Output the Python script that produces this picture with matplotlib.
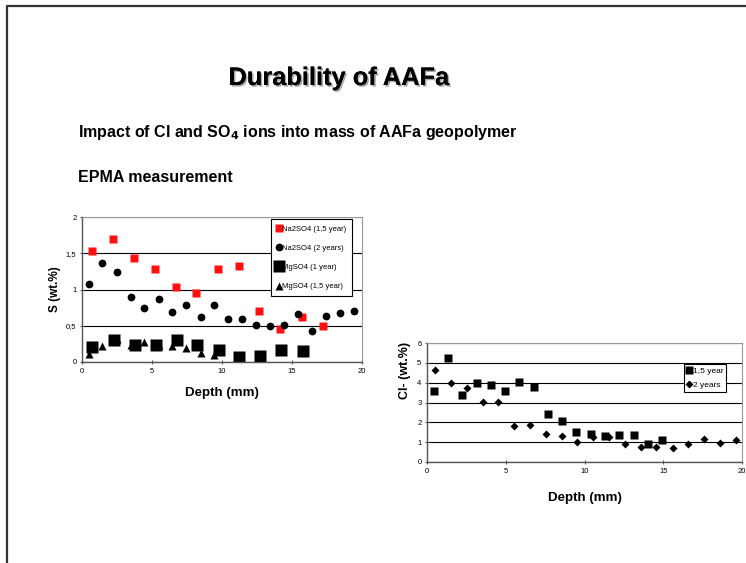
import matplotlib
matplotlib.use("Agg")
import matplotlib.pyplot as plt
from matplotlib.lines import Line2D
import matplotlib.patheffects as pe

plt.rcParams['font.family'] = ['Liberation Sans', 'DejaVu Sans']

# ---- Data: left chart (S, wt.%) ----
na_15_x = [0.74, 2.24, 3.71, 5.19, 6.71, 8.17, 9.71, 11.19, 12.67, 14.17, 15.69, 17.19]
na_15_y = [1.53, 1.70, 1.43, 1.28, 1.04, 0.95, 1.28, 1.32, 0.70, 0.455, 0.62, 0.50]
na_2_x = [0.5, 1.45, 2.48, 3.48, 4.45, 5.48, 6.45, 7.45, 8.48, 9.45, 10.45, 11.45,
          12.45, 13.45, 14.45, 15.43, 16.43, 17.43, 18.43, 19.43]
na_2_y = [1.08, 1.37, 1.24, 0.89, 0.74, 0.87, 0.69, 0.78, 0.62, 0.78, 0.60, 0.60,
          0.51, 0.50, 0.51, 0.66, 0.43, 0.64, 0.67, 0.70]
mg_1_x = [0.74, 2.31, 3.79, 5.26, 6.76, 8.21, 9.81, 11.24, 12.74, 14.21, 15.76]
mg_1_y = [0.21, 0.31, 0.24, 0.24, 0.31, 0.24, 0.16, 0.065, 0.08, 0.16, 0.15]
mg_15_x = [0.5, 1.45, 2.48, 3.48, 4.45, 5.48, 6.45, 7.45, 8.48, 9.45]
mg_15_y = [0.11, 0.225, 0.32, 0.24, 0.28, 0.24, 0.22, 0.20, 0.12, 0.10]

# ---- Data: right chart (Cl-, wt.%) ----
cl_15_x = [0.43, 1.32, 2.23, 3.15, 4.04, 4.96, 5.87, 6.77, 7.68, 8.6, 9.49, 10.4,
           11.3, 12.21, 13.13, 14.0, 14.91]
cl_15_y = [3.60, 5.23, 3.36, 3.98, 3.90, 3.60, 4.03, 3.80, 2.42, 2.07, 1.53, 1.41,
           1.29, 1.38, 1.38, 0.91, 1.11]
cl_2_x = [0.51, 1.51, 2.53, 3.53, 4.53, 5.55, 6.55, 7.55, 8.55, 9.55, 10.55, 11.55,
          12.57, 13.57, 14.57, 15.6, 16.6, 17.6, 18.6, 19.6]
cl_2_y = [4.66, 3.98, 3.71, 3.01, 3.01, 1.80, 1.87, 1.41, 1.29, 0.99, 1.24, 1.26,
          0.92, 0.77, 0.76, 0.69, 0.92, 1.16, 0.97, 1.09]

W, H = 746, 563
fig = plt.figure(figsize=(W / 100, H / 100), dpi=100)
fig.patch.set_facecolor('white')

# slide frame (left and top edges)
fig.add_artist(Line2D([7 / W, 7 / W, 1.0], [0.0, 1 - 5.5 / H, 1 - 5.5 / H],
                      transform=fig.transFigure, color='#333333', lw=1.6))

# titles
shadow = [pe.withSimplePatchShadow(offset=(1.2, -1.2), shadow_rgbFace='#aaaaaa', alpha=1.0), pe.Normal()]
fig.text(338.5 / W, 1 - 78 / H, 'Durability of AAFa', ha='center', va='center',
         fontsize=18.3, fontweight='bold', path_effects=shadow)
fig.text(78 / W, 1 - 133 / H, r'Impact of Cl and SO$_\mathbf{4}$ ions into mass of AAFa geopolymer',
         ha='left', va='center', fontsize=11.5, fontweight='bold')
fig.text(78 / W, 1 - 178 / H, 'EPMA measurement', ha='left', va='center',
         fontsize=11.5, fontweight='bold')


def style_axes(ax):
    for s in ['top', 'right']:
        ax.spines[s].set_color('#999999')
        ax.spines[s].set_linewidth(0.8)
    for s in ['left', 'bottom']:
        ax.spines[s].set_color('#555555')
        ax.spines[s].set_linewidth(1.0)
    ax.tick_params(axis='both', labelsize=5.5, length=3, width=0.8, color='#555555',
                   direction='inout', pad=2.5)
    ax.yaxis.grid(True, color='black', lw=0.8)
    ax.set_axisbelow(True)


# ---- left chart ----
axL = fig.add_axes([82 / W, 1 - 362 / H, 280 / W, 145 / H])
axL.plot(na_15_x, na_15_y, 's', color='#ff1010', ms=5.8, mec='none', label='Na2SO4 (1,5 year)')
axL.plot(na_2_x, na_2_y, 'o', color='black', ms=5.6, mec='none', label='Na2SO4 (2 years)')
axL.plot(mg_15_x, mg_15_y, '^', color='black', ms=6, mec='none')
axL.plot(mg_1_x, mg_1_y, 's', color='black', ms=8.3, mec='none', label='MgSO4 (1 year)')
axL.plot([], [], '^', color='black', ms=6, mec='none', label='MgSO4 (1,5 year)')
axL.set_xlim(0, 20)
axL.set_ylim(0, 2)
axL.set_xticks([0, 5, 10, 15, 20])
axL.set_yticks([0, 0.5, 1, 1.5, 2])
axL.set_yticklabels(['0', '0,5', '1', '1,5', '2'])
style_axes(axL)
axL.set_xlabel('Depth (mm)', fontsize=9.6, fontweight='bold', labelpad=9)
axL.set_ylabel('S (wt.%)', fontsize=8.5, fontweight='bold')
axL.yaxis.set_label_coords(-0.075, 0.5)
legL = axL.legend(loc='upper right', bbox_to_anchor=(0.966, 0.985), fontsize=5.5,
                  frameon=True, fancybox=False, edgecolor='black', framealpha=1,
                  handlelength=0.55, handletextpad=0.1, labelspacing=1.55,
                  borderpad=0.8, borderaxespad=0.0)
legL.get_frame().set_linewidth(0.8)

# ---- right chart ----
axR = fig.add_axes([427 / W, 1 - 462 / H, 315 / W, 119 / H])
axR.plot(cl_15_x, cl_15_y, 's', color='black', ms=5.5, mec='none', label='1,5 year')
axR.plot(cl_2_x, cl_2_y, 'D', color='black', ms=4.2, mec='none', label='2 years')
axR.set_xlim(0, 20)
axR.set_ylim(0, 6)
axR.set_xticks([0, 5, 10, 15, 20])
axR.set_yticks([0, 1, 2, 3, 4, 5, 6])
style_axes(axR)
axR.set_xlabel('Depth (mm)', fontsize=9.6, fontweight='bold', labelpad=12.5)
axR.set_ylabel('Cl- (wt.%)', fontsize=9, fontweight='bold')
axR.yaxis.set_label_coords(-0.052, 0.77)
legR = axR.legend(loc='upper right', bbox_to_anchor=(0.95, 0.82), fontsize=6,
                  frameon=True, fancybox=False, edgecolor='black', framealpha=1,
                  handlelength=0.5, handletextpad=0.2, labelspacing=0.75,
                  borderpad=0.35, borderaxespad=0.0)
legR.get_frame().set_linewidth(0.8)

fig.savefig('out.png', dpi=100)
